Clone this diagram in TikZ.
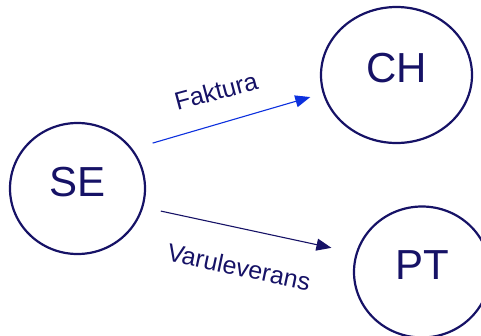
\documentclass[tikz,border=0pt]{standalone}
\usepackage{fontspec}
\setmainfont{Liberation Sans}
\usetikzlibrary{shapes.geometric,arrows.meta}
\definecolor{navy}{RGB}{22,18,102}
\definecolor{linkblue}{RGB}{12,48,222}

\begin{document}
\begin{tikzpicture}[x=1pt,y=-1pt,
        land/.style={ellipse, draw=navy, line width=2.2pt, inner sep=0pt, outer sep=0pt,
            text=navy, text height=31pt, text depth=16pt, font=\fontsize{42}{42}\selectfont},
        flow/.style={-{Triangle[length=15pt,width=12pt]}, line width=1.1pt},
        flowlabel/.style={text=navy, inner sep=0pt, font=\fontsize{25}{25}\selectfont}]
    \useasboundingbox (0,0) rectangle (481,335);
    \node[land, minimum width=135pt, minimum height=131pt] (se) at (77.5,188.5) {SE};
    \node[land, minimum width=151pt, minimum height=136pt] (ch) at (396.5,75) {CH};
    \node[land, minimum width=136pt, minimum height=131pt] (pt) at (422,272) {PT};
    \node[flowlabel, rotate=15] (faktura) at (216,91) {Faktura};
    \node[flowlabel, rotate=-12] (varor) at (239,267) {Varuleverans};
    \draw[flow, linkblue, shorten <=22pt, shorten >=14pt] (se.36) -- (ch.194);
    \draw[flow, navy, shorten <=19pt, shorten >=26pt] (se.-16) -- (pt.164);
\end{tikzpicture}
\end{document}
